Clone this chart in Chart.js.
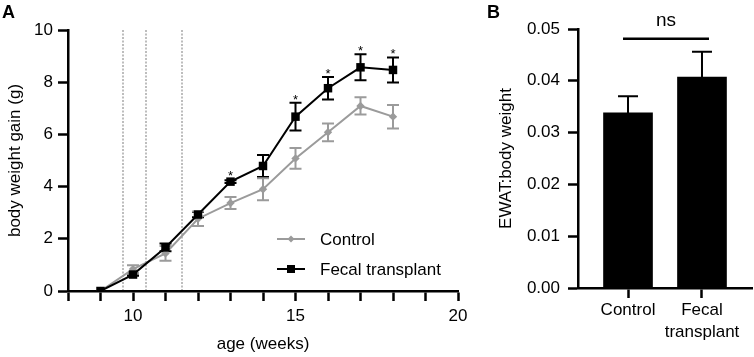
<!DOCTYPE html>
<html><head><meta charset="utf-8">
<script src="https://cdn.jsdelivr.net/npm/chart.js@4.4.1/dist/chart.umd.min.js"></script>
<style>
html,body{margin:0;padding:0;background:#fff;width:754px;height:357px;overflow:hidden;}
#wrap{position:relative;width:754px;height:357px;background:#fff;}
canvas{position:absolute;top:0;}
#cA{left:0;width:480px;height:357px;}
#cB{left:460px;width:294px;height:357px;}
.panel{position:absolute;font:bold 18px "Liberation Sans",Arial,sans-serif;line-height:18px;color:#000;}
</style></head><body>
<div id="wrap">
<canvas id="cA" width="480" height="357"></canvas>
<canvas id="cB" width="294" height="357"></canvas>
<div class="panel" style="left:2px;top:3px">A</div>
<div class="panel" style="left:487px;top:3px">B</div>
</div>
<script>
// ---------- Panel A data ----------
const weeks = [9, 10, 11, 12, 13, 14, 15, 16, 17, 18];
const controlMean = [0, 0.84, 1.44, 2.77, 3.37, 3.90, 5.08, 6.08, 7.09, 6.68];
const controlErr  = [0, 0.15, 0.28, 0.28, 0.23, 0.42, 0.40, 0.34, 0.33, 0.45];
const fecalMean   = [0, 0.63, 1.67, 2.93, 4.19, 4.79, 6.68, 7.77, 8.57, 8.47];
const fecalErr    = [0, 0.05, 0.15, 0.10, 0.05, 0.42, 0.53, 0.43, 0.50, 0.48];
const sigWeeks    = [13, 15, 16, 17, 18];
const dottedWeeks = [9.7, 10.4, 11.5];
const xTickLabelsA = [10, 15, 20];
const yTickLabelsA = [0, 2, 4, 6, 8, 10];
const seriesNames = ['Control', 'Fecal transplant'];

// ---------- Panel B data ----------
const categoriesB = ['Control', ['Fecal', 'transplant']];
const positionsB = [1, 2];
const ratioMean = [0.0338, 0.0407];
const ratioErr  = [0.0032, 0.0049];
const yTickLabelsB = ['0.00', '0.01', '0.02', '0.03', '0.04', '0.05'];
const sigLabelB = 'ns';
const sigLevelB = 0.0481;

const FONT = '"Liberation Sans", Arial, Helvetica, sans-serif';
Chart.defaults.font.family = FONT;
Chart.defaults.font.size = 17;
Chart.defaults.color = '#000';

const GRAY = '#9b9b9b';

const errorBars = {
  id: 'errorBars',
  beforeDatasetsDraw(chart, args, opts) {
    if (opts.after) return;
    drawErr(chart, opts);
  },
  afterDatasetsDraw(chart, args, opts) {
    if (!opts.after) return;
    drawErr(chart, opts);
  }
};
function drawErr(chart, opts) {
  const ctx = chart.ctx, xS = chart.scales.x, yS = chart.scales.y;
  chart.data.datasets.forEach(ds => {
    if (!ds.errors) return;
    ctx.save();
    ctx.strokeStyle = ds.errColor || ds.borderColor;
    ctx.lineWidth = opts.lineWidth || 2;
    ds.data.forEach((p, j) => {
      const e = ds.errors[j];
      if (!e) return;
      const x = xS.getPixelForValue(p.x);
      const yT = yS.getPixelForValue(p.y + e);
      const yB = opts.upOnly ? yS.getPixelForValue(p.y) : yS.getPixelForValue(p.y - e);
      const c = opts.cap;
      ctx.beginPath();
      ctx.moveTo(x, yT); ctx.lineTo(x, yB);
      ctx.moveTo(x - c, yT); ctx.lineTo(x + c, yT);
      if (!opts.upOnly) { ctx.moveTo(x - c, yB); ctx.lineTo(x + c, yB); }
      ctx.stroke();
    });
    ctx.restore();
  });
}

const dotted = {
  id: 'dotted',
  beforeDatasetsDraw(chart) {
    const ctx = chart.ctx, xS = chart.scales.x, a = chart.chartArea;
    ctx.save();
    ctx.strokeStyle = '#bdbdbd';
    ctx.lineWidth = 2;
    ctx.lineCap = 'butt';
    ctx.setLineDash([2, 1.5]);
    dottedWeeks.forEach(w => {
      const x = Math.round(xS.getPixelForValue(w));
      ctx.beginPath(); ctx.moveTo(x, a.top); ctx.lineTo(x, a.bottom - 1); ctx.stroke();
    });
    ctx.restore();
  }
};

const stars = {
  id: 'stars',
  afterDatasetsDraw(chart) {
    const ctx = chart.ctx, xS = chart.scales.x, yS = chart.scales.y;
    ctx.save();
    ctx.fillStyle = '#000';
    ctx.font = '13px ' + FONT;
    ctx.textAlign = 'center';
    ctx.textBaseline = 'alphabetic';
    sigWeeks.forEach(w => {
      const i = weeks.indexOf(w);
      const x = xS.getPixelForValue(w);
      const y = yS.getPixelForValue(fecalMean[i] + Math.max(fecalErr[i], 0.12));
      ctx.fillText('*', x, y + 1);
    });
    ctx.restore();
  }
};

const legendA = {
  id: 'legendA',
  afterDraw(chart) {
    const ctx = chart.ctx, a = chart.chartArea;
    const x0 = a.left + 209, y0 = a.top + 209, gap = 30;
    const items = [
      {name: seriesNames[0], color: GRAY, style: 'diamond'},
      {name: seriesNames[1], color: '#000', style: 'square'}
    ];
    ctx.save();
    items.forEach((it, k) => {
      const y = y0 + k * gap;
      ctx.strokeStyle = it.color; ctx.fillStyle = it.color; ctx.lineWidth = 2;
      ctx.beginPath(); ctx.moveTo(x0, y); ctx.lineTo(x0 + 28, y); ctx.stroke();
      const cx = x0 + 14;
      ctx.beginPath();
      if (it.style === 'diamond') {
        ctx.moveTo(cx - 3.5, y); ctx.lineTo(cx, y - 3.5); ctx.lineTo(cx + 3.5, y); ctx.lineTo(cx, y + 3.5);
      } else {
        ctx.rect(cx - 4, y - 4, 8, 8);
      }
      ctx.closePath(); ctx.fill();
      ctx.fillStyle = '#000';
      ctx.font = '17px ' + FONT;
      ctx.textAlign = 'left'; ctx.textBaseline = 'middle';
      ctx.fillText(it.name, x0 + 43, y + 1);
    });
    ctx.restore();
  }
};

new Chart(document.getElementById('cA'), {
  type: 'line',
  data: {
    datasets: [
      {
        label: seriesNames[1],
        data: weeks.map((w, i) => ({x: w, y: fecalMean[i]})),
        errors: fecalErr,
        borderColor: '#000', backgroundColor: '#000',
        borderWidth: 2, pointStyle: 'rect', pointRadius: 6, pointBorderWidth: 0,
        tension: 0
      },
      {
        label: seriesNames[0],
        data: weeks.map((w, i) => ({x: w, y: controlMean[i]})),
        errors: controlErr,
        borderColor: GRAY, backgroundColor: GRAY,
        borderWidth: 2, pointStyle: 'rectRot', pointRadius: 4.2, pointBorderWidth: 0,
        tension: 0
      }
    ]
  },
  options: {
    responsive: false, animation: false, devicePixelRatio: 1,
    layout: {padding: {top: 30, right: 22, left: 0, bottom: 0}},
    plugins: {legend: {display: false}, tooltip: {enabled: false},
      errorBars: {cap: 6, lineWidth: 2}},
    scales: {
      x: {
        type: 'linear', min: 8, max: 20,
        afterFit: s => { s.height = 66; },
        ticks: {stepSize: 1, autoSkip: false, maxRotation: 0, padding: 5,
          callback: v => xTickLabelsA.includes(v) ? String(v) : ''},
        grid: {drawOnChartArea: false, drawTicks: true, tickLength: 10, tickColor: '#000', tickWidth: 2.5},
        border: {color: '#000', width: 2.5},
        title: {display: true, text: 'age (weeks)', font: {size: 17}, padding: {top: 0, bottom: 2}}
      },
      y: {
        min: 0, max: 10,
        afterFit: s => { s.width = 68; },
        ticks: {stepSize: 2, padding: 5,
          callback: v => yTickLabelsA.includes(v) ? String(v) : ''},
        grid: {drawOnChartArea: false, drawTicks: true, tickLength: 10, tickColor: '#000', tickWidth: 2.5},
        border: {color: '#000', width: 2.5},
        title: {display: true, text: 'body weight gain (g)', font: {size: 17}, padding: {top: 5, bottom: 0}}
      }
    }
  },
  plugins: [dotted, errorBars, stars, legendA]
});

const nsPlugin = {
  id: 'nsPlugin',
  afterDraw(chart) {
    const ctx = chart.ctx, xS = chart.scales.x, yS = chart.scales.y;
    const x1 = xS.getPixelForValue(positionsB[0]) - 5;
    const x2 = xS.getPixelForValue(positionsB[1]) + 7;
    const y = yS.getPixelForValue(sigLevelB);
    ctx.save();
    ctx.strokeStyle = '#000'; ctx.lineWidth = 2.5;
    ctx.beginPath(); ctx.moveTo(x1, y); ctx.lineTo(x2, y); ctx.stroke();
    ctx.fillStyle = '#000';
    ctx.font = '19px ' + FONT;
    ctx.textAlign = 'center'; ctx.textBaseline = 'alphabetic';
    ctx.fillText(sigLabelB, (x1 + x2) / 2, y - 13);
    ctx.restore();
  }
};

new Chart(document.getElementById('cB'), {
  type: 'bar',
  data: {
    datasets: [{
      data: positionsB.map((p, i) => ({x: p, y: ratioMean[i]})),
      errors: ratioErr,
      backgroundColor: '#000', borderColor: '#000', borderWidth: 0,
      barThickness: 49
    }]
  },
  options: {
    responsive: false, animation: false, devicePixelRatio: 1,
    layout: {padding: {top: 29, right: 2, left: 0, bottom: 0}},
    plugins: {legend: {display: false}, tooltip: {enabled: false},
      errorBars: {cap: 10, lineWidth: 2, upOnly: true, after: true}},
    scales: {
      x: {
        type: 'linear', min: 0.324, max: 2.676, offset: false,
        afterBuildTicks: s => { s.ticks = positionsB.map(v => ({value: v})); },
        afterFit: s => { s.height = 69; },
        ticks: {autoSkip: false, maxRotation: 0, padding: 1, font: {size: 17, lineHeight: 1.3},
          callback: (v, i) => categoriesB[i]},
        grid: {offset: false, drawOnChartArea: false, drawTicks: true, tickLength: 10, tickColor: '#000', tickWidth: 2.5},
        border: {color: '#000', width: 2.5}
      },
      y: {
        min: 0, max: 0.05,
        afterFit: s => { s.width = 118; },
        ticks: {stepSize: 0.01, padding: 8, callback: (v, i) => yTickLabelsB[i]},
        grid: {drawOnChartArea: false, drawTicks: true, tickLength: 10, tickColor: '#000', tickWidth: 2.5},
        border: {color: '#000', width: 2.5},
        title: {display: true, text: 'EWAT:body weight', font: {size: 17}, padding: {top: 36, bottom: 0}}
      }
    }
  },
  plugins: [errorBars, nsPlugin]
});
</script>
</body></html>
